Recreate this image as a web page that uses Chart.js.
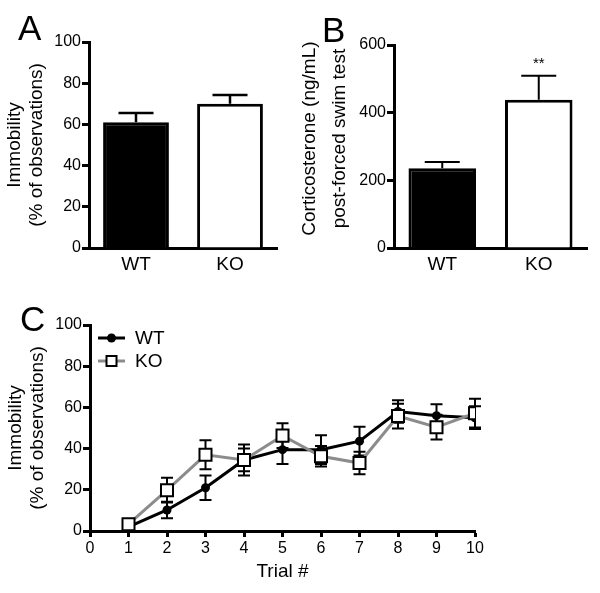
<!DOCTYPE html>
<html>
<head>
<meta charset="utf-8">
<script src="https://cdn.jsdelivr.net/npm/chart.js@4"></script>
<style>
  html, body { margin: 0; padding: 0; background: #fff; }
  #page { position: relative; width: 600px; height: 593px; overflow: hidden; }
  .wrap { position: absolute; }
  .letter { position: absolute; font-family: "Liberation Sans", Arial, sans-serif; font-size: 35px; line-height: 35px; color: #000; }
</style>
</head>
<body>
<div id="page">
  <div class="wrap" style="left:0;top:0;width:300px;height:290px"><canvas id="chartA"></canvas></div>
  <div class="wrap" style="left:295px;top:0;width:305px;height:290px"><canvas id="chartB"></canvas></div>
  <div class="wrap" style="left:0;top:290px;width:600px;height:303px"><canvas id="chartC"></canvas></div>
  <div class="letter" style="left:18px;top:10px">A</div>
  <div class="letter" style="left:322px;top:12px">B</div>
  <div class="letter" style="left:20px;top:301px">C</div>
</div>
<script>
// panel A / B: two genotypes
const groups = ['WT', 'KO'];
const immobilityMean = [61, 70];
const immobilityErr = [4.5, 4.3];
const corticoMean = [236, 438];
const corticoErr = [18, 71];
const corticoSig = ['', '**'];

// panel C: immobility per trial
const trials = [1, 2, 3, 4, 5, 6, 7, 8, 9, 10];
const wtTrial = [2, 10.2, 21, 34.5, 39.5, 39.5, 43.6, 58, 56, 55];
const wtTrialErr = [1, 4, 6, 5.5, 7, 7, 7, 5.5, 5.5, 5.5];
const koTrial = [3.3, 19.8, 37, 34.5, 46.3, 36.3, 33, 55.8, 50.4, 57.2];
const koTrialErr = [1, 6, 7, 7.5, 6, 5, 5.5, 6, 6, 7];

const FONT = '"Liberation Sans", Arial, sans-serif';
Chart.defaults.font.family = FONT;
Chart.defaults.color = '#000';

// error bars (and significance marks) drawn from the chart's own y scale
function drawErrors(chart, opts) {
  const ctx = chart.ctx;
  chart.data.datasets.forEach((ds, i) => {
    if (!ds.errors) return;
    const meta = chart.getDatasetMeta(i);
    const yScale = chart.scales[meta.yAxisID];
    meta.data.forEach((el, j) => {
      const v = meta.controller.getParsed(j).y;
      const e = ds.errors[j];
      const top = yScale.getPixelForValue(v + e);
      const bot = opts.upOnly ? el.y : yScale.getPixelForValue(v - e);
      const half = opts.capWidth / 2;
      ctx.save();
      ctx.strokeStyle = '#000';
      ctx.lineWidth = opts.lineWidth;
      ctx.beginPath();
      ctx.moveTo(el.x, bot);
      ctx.lineTo(el.x, top);
      ctx.moveTo(el.x - half, top);
      ctx.lineTo(el.x + half, top);
      if (!opts.upOnly) {
        ctx.moveTo(el.x - half, bot);
        ctx.lineTo(el.x + half, bot);
      }
      ctx.stroke();
      if (ds.sig && ds.sig[j]) {
        ctx.fillStyle = '#000';
        ctx.font = '15px ' + FONT;
        ctx.textAlign = 'center';
        ctx.textBaseline = 'middle';
        ctx.fillText(ds.sig[j], el.x, top - 12);
      }
      ctx.restore();
    });
  });
}

const errorBars = {
  id: 'errorBars',
  beforeDatasetsDraw(chart, args, opts) { if (opts.behind) drawErrors(chart, opts); },
  afterDatasetsDraw(chart, args, opts) { if (!opts.behind) drawErrors(chart, opts); }
};

// legend in the top-left corner of the plot: line sample, marker, label
const sampleLegend = {
  id: 'sampleLegend',
  afterDraw(chart, args, opts) {
    const ctx = chart.ctx;
    const { left, top } = chart.chartArea;
    chart.data.datasets.forEach((ds, i) => {
      const y = top + opts.firstRow + i * opts.rowGap;
      const x0 = left + opts.lineStart;
      const x1 = x0 + opts.lineLength;
      const xm = (x0 + x1) / 2;
      ctx.save();
      ctx.strokeStyle = ds.borderColor;
      ctx.lineWidth = ds.borderWidth;
      ctx.beginPath();
      ctx.moveTo(x0, y);
      ctx.lineTo(x1, y);
      ctx.stroke();
      ctx.fillStyle = ds.pointBackgroundColor;
      ctx.strokeStyle = ds.pointBorderColor;
      ctx.lineWidth = 2;
      if (ds.pointStyle === 'rect') {
        ctx.fillRect(xm - 5, y - 5, 10, 10);
        ctx.strokeRect(xm - 5, y - 5, 10, 10);
      } else {
        ctx.beginPath();
        ctx.arc(xm, y, 4.5, 0, Math.PI * 2);
        ctx.fill();
      }
      ctx.fillStyle = '#000';
      ctx.font = '19px ' + FONT;
      ctx.textAlign = 'left';
      ctx.textBaseline = 'middle';
      ctx.fillText(ds.label, x1 + 10, y + 1);
      ctx.restore();
    });
  }
};

function yAxis(max, step, width, title, lineHeight, padTop) {
  return {
    min: 0, max: max,
    afterFit: s => { s.width = width; },
    ticks: { stepSize: step, padding: 1, font: { size: 16 }, color: '#000' },
    grid: { drawOnChartArea: false, drawTicks: true, tickLength: 7, tickWidth: 3, tickColor: '#000' },
    border: { display: true, color: '#000', width: 3 },
    title: { display: true, text: title, color: '#000', font: { size: 19, lineHeight: lineHeight }, padding: { top: padTop, bottom: 0 } }
  };
}

function barChart(id, means, errs, sig, yMax, yStep, yWidth, yTitle, lh, padTop, layoutPad, errWidth) {
  return new Chart(document.getElementById(id), {
    type: 'bar',
    data: {
      labels: groups,
      datasets: [{
        data: means,
        errors: errs,
        sig: sig,
        backgroundColor: ['#000', '#fff'],
        borderColor: '#000',
        borderWidth: 3,
        barPercentage: 0.7,
        categoryPercentage: 1
      }]
    },
    options: {
      responsive: true,
      maintainAspectRatio: false,
      animation: false,
      layout: { padding: layoutPad },
      plugins: {
        legend: { display: false },
        tooltip: { enabled: false },
        errorBars: { upOnly: true, capWidth: 35, lineWidth: errWidth, behind: false }
      },
      scales: {
        x: {
          z: 1,
          afterFit: s => { s.height = 42; },
          ticks: { font: { size: 19 }, color: '#000', padding: 5 },
          grid: { display: false, drawTicks: false },
          border: { display: true, color: '#000', width: 3 }
        },
        y: yAxis(yMax, yStep, yWidth, yTitle, lh, padTop)
      }
    },
    plugins: [errorBars]
  });
}

barChart('chartA', immobilityMean, immobilityErr, null, 100, 20, 89,
  ['Immobility', '(% of observations)'], 1.16, 4,
  { top: 42, right: 23, left: 0, bottom: 0 }, 2.5);

// leading no-break spaces nudge the centred vertical title upward a little
barChart('chartB', corticoMean, corticoErr, corticoSig, 600, 200, 99,
  ['\u00a0\u00a0\u00a0Corticosterone (ng/mL)', '\u00a0\u00a0\u00a0post-forced swim test'], 1.58, 0,
  { top: 45, right: 13, left: 0, bottom: 0 }, 2);

new Chart(document.getElementById('chartC'), {
  type: 'line',
  data: {
    datasets: [
      {
        label: 'WT',
        data: trials.map((t, i) => ({ x: t, y: wtTrial[i] })),
        errors: wtTrialErr,
        borderColor: '#000',
        borderWidth: 3,
        pointStyle: 'circle',
        pointRadius: 4.5,
        pointBackgroundColor: '#000',
        pointBorderColor: '#000',
        pointBorderWidth: 0,
        order: 1
      },
      {
        label: 'KO',
        data: trials.map((t, i) => ({ x: t, y: koTrial[i] })),
        errors: koTrialErr,
        borderColor: '#8c8c8c',
        borderWidth: 3,
        pointStyle: 'rect',
        pointRadius: 8.5,
        pointBackgroundColor: '#fff',
        pointBorderColor: '#000',
        pointBorderWidth: 2,
        order: 0
      }
    ]
  },
  options: {
    responsive: true,
    maintainAspectRatio: false,
    animation: false,
    layout: { padding: { top: 35, right: 125, left: 0, bottom: 0 } },
    plugins: {
      tooltip: { enabled: false },
      legend: { display: false },
      errorBars: { upOnly: false, capWidth: 12, lineWidth: 2, behind: true },
      sampleLegend: { firstRow: 13, rowGap: 23, lineStart: 8, lineLength: 27 }
    },
    scales: {
      x: {
        type: 'linear',
        min: 0, max: 10,
        afterFit: s => { s.height = 62; },
        ticks: { stepSize: 1, font: { size: 16 }, color: '#000', padding: 2 },
        grid: { drawOnChartArea: false, drawTicks: true, tickLength: 6, tickWidth: 3, tickColor: '#000' },
        border: { display: true, color: '#000', width: 3 },
        title: { display: true, text: 'Trial #', color: '#000', font: { size: 19, lineHeight: 1.16 }, padding: { top: 0, bottom: 10 } }
      },
      y: yAxis(100, 20, 90, ['Immobility', '(% of observations)'], 1.16, 5)
    }
  },
  plugins: [errorBars, sampleLegend]
});
</script>
</body>
</html>
